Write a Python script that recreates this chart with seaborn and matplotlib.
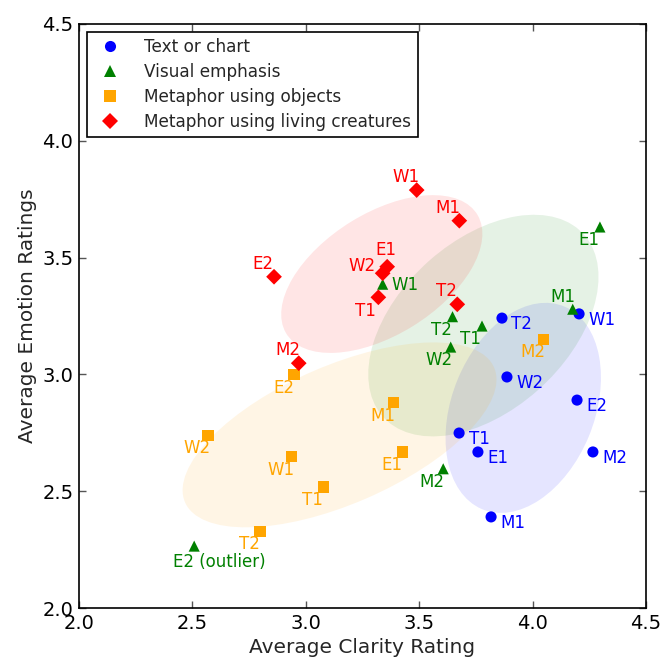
import numpy as np
import pandas as pd
import seaborn as sns
import matplotlib
matplotlib.use("Agg")
import matplotlib.pyplot as plt
from matplotlib.patches import Ellipse

# data
categories = ["Text or chart", "Visual emphasis", "Metaphor using objects",
              "Metaphor using living creatures"]

text_labels = ["T2", "W1", "W2", "E2", "T1", "E1", "M2", "M1"]
text_clarity = [3.865, 4.205, 3.887, 4.196, 3.676, 3.759, 4.266, 3.817]
text_emotion = [3.241, 3.259, 2.989, 2.890, 2.749, 2.668, 2.668, 2.390]

visual_labels = ["E1", "M1", "T2", "T1", "W2", "W1", "M2", "E2 (outlier)"]
visual_clarity = [4.297, 4.177, 3.647, 3.777, 3.639, 3.339, 3.606, 2.508]
visual_emotion = [3.631, 3.279, 3.247, 3.207, 3.117, 3.386, 2.596, 2.265]

object_labels = ["M2", "E2", "M1", "W2", "W1", "E1", "T1", "T2"]
object_clarity = [4.047, 2.948, 3.387, 2.569, 2.938, 3.427, 3.077, 2.798]
object_emotion = [3.150, 2.999, 2.879, 2.739, 2.648, 2.668, 2.518, 2.328]

living_labels = ["W1", "M1", "E1", "W2", "T1", "T2", "E2", "M2"]
living_clarity = [3.489, 3.677, 3.359, 3.339, 3.320, 3.668, 2.860, 2.969]
living_emotion = [3.789, 3.658, 3.461, 3.433, 3.330, 3.300, 3.418, 3.048]

ticks = [2.0, 2.5, 3.0, 3.5, 4.0, 4.5]

colors = {categories[0]: "blue", categories[1]: "green",
          categories[2]: "orange", categories[3]: "red"}
markers = {categories[0]: "o", categories[1]: "^",
           categories[2]: "s", categories[3]: "D"}

groups = [
    (categories[0], text_labels, text_clarity, text_emotion),
    (categories[1], visual_labels, visual_clarity, visual_emotion),
    (categories[2], object_labels, object_clarity, object_emotion),
    (categories[3], living_labels, living_clarity, living_emotion),
]

rows = []
for cat, labs, xs, ys in groups:
    for lab, x, y in zip(labs, xs, ys):
        rows.append({"clarity": x, "emotion": y, "category": cat, "label": lab})
df = pd.DataFrame(rows)

# label placement (points) per group, with a few exceptions
default_offset = {categories[0]: (6.8, -4.3, "left"),
                  categories[1]: (-8.3, -9.4, "center"),
                  categories[2]: (-7.6, -9.4, "center"),
                  categories[3]: (-7.9, 9.4, "center")}
special_offset = {
    (categories[1], "M1"): (-7.2, 9.1, "center"),
    (categories[1], "W1"): (15.8, -0.7, "center"),
    (categories[1], "E2 (outlier)"): (18.0, -11.5, "center"),
    (categories[3], "E1"): (-0.7, 12.2, "center"),
    (categories[3], "W2"): (-15.0, 5.0, "center"),
    (categories[3], "T1"): (-9.4, -10.0, "center"),
}

sns.set_style("ticks")
plt.rcParams["font.family"] = ["DejaVu Sans"]

fig = plt.figure(figsize=(6.62, 6.64), dpi=100)
ax = fig.add_axes([0.1193, 0.0843, 0.8565, 0.8796])

# covariance ellipses (1.5 std), outlier left out of the green one
for cat, labs, xs, ys in groups:
    pts = np.array([(x, y) for lab, x, y in zip(labs, xs, ys) if "outlier" not in lab])
    cov = np.cov(pts[:, 0], pts[:, 1])
    vals, vecs = np.linalg.eigh(cov)
    order = vals.argsort()[::-1]
    vals, vecs = vals[order], vecs[:, order]
    angle = np.degrees(np.arctan2(vecs[1, 0], vecs[0, 0]))
    w, h = 2 * 1.5 * np.sqrt(vals)
    ell = Ellipse(xy=pts.mean(axis=0), width=w, height=h, angle=angle,
                  facecolor=colors[cat], alpha=0.1, edgecolor="none", zorder=1)
    ax.add_patch(ell)

sns.scatterplot(data=df, x="clarity", y="emotion", hue="category", style="category",
                palette=colors, markers=markers, hue_order=categories,
                style_order=categories, s=64, linewidth=0, ax=ax, zorder=3)

for _, r in df.iterrows():
    dx, dy, ha = special_offset.get((r["category"], r["label"]),
                                    default_offset[r["category"]])
    ax.annotate(r["label"], (r["clarity"], r["emotion"]), xytext=(dx, dy),
                textcoords="offset points", ha=ha, va="center",
                color=colors[r["category"]], fontsize=12, zorder=4)

ax.set_xlim(2.0, 4.5)
ax.set_ylim(2.0, 4.5)
ax.set_xticks(ticks)
ax.set_yticks(ticks)
ax.set_xticklabels([f"{t:.1f}" for t in ticks])
ax.set_yticklabels([f"{t:.1f}" for t in ticks])
ax.tick_params(direction="in", top=True, right=True, length=5, width=1,
               colors="#555555", labelcolor="black", labelsize=14, pad=4)
for sp in ax.spines.values():
    sp.set_visible(True)
    sp.set_color("black")
    sp.set_linewidth(1.2)

ax.set_xlabel("Average Clarity Rating", fontsize=14.5)
ax.set_ylabel("Average Emotion Ratings", fontsize=14.5)

sns.move_legend(ax, "upper left", title=None, frameon=True, fancybox=False,
                edgecolor="black", framealpha=1, fontsize=12.2,
                borderaxespad=0.45, labelspacing=0.4, handletextpad=1.0,
                borderpad=0.4)
ax.get_legend().get_frame().set_linewidth(1.2)

fig.savefig("out.png", dpi=100)
